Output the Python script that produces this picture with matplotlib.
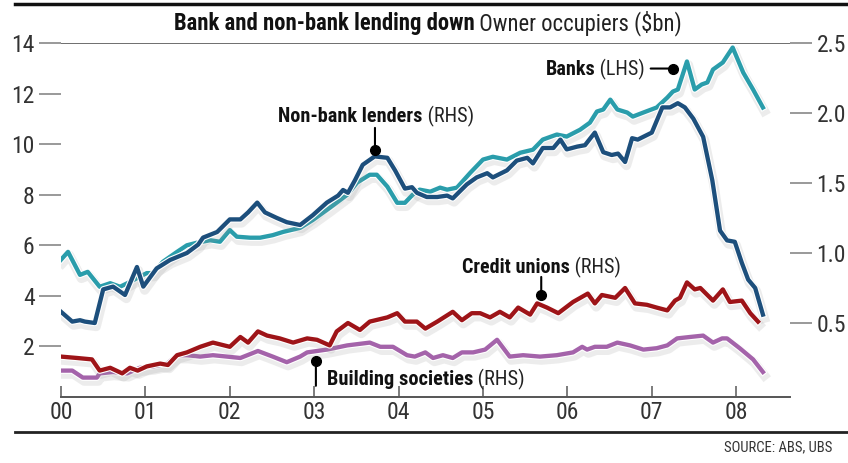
import matplotlib
matplotlib.use("Agg")
import matplotlib.pyplot as plt
import matplotlib.patheffects as pe
import numpy as np

plt.rcParams['font.family'] = ['Roboto Condensed', 'DejaVu Sans']
plt.rcParams['font.stretch'] = 'condensed'

# ---------------- data (months since Jan 2000, values in $bn) ----------------
banks_m = [0, 1, 2.7, 3.8, 5.5, 7, 8.4, 9.8, 10.8, 12.2, 13.1, 14.5, 16.5, 17.9, 19.3, 21.2, 22.6, 24, 25,
           26.9, 28.3, 30.1, 31.6, 34, 35.8, 38.2, 40.7, 42.1, 43.9, 44.9, 46.4, 47.8, 48.9, 50, 51, 52.5,
           53.9, 54.9, 56.3, 58.2, 60, 61.4, 63.4, 65.3, 67.1, 68.5, 70.5, 71.9, 73.8, 75.2, 76.2, 77.1,
           78.1, 79.1, 80.5, 81.3, 82.8, 84.7, 86.2, 87, 87.7, 89, 90.1, 91.1, 91.9, 92.7, 94.1, 95.5, 97,
           98.4, 99.8]
banks_v = [5.43, 5.74, 4.83, 4.95, 4.36, 4.5, 4.36, 4.55, 4.7, 4.9, 4.9, 5.35, 5.74, 6.0, 6.1, 6.2, 6.14, 6.6,
           6.34, 6.3, 6.3, 6.4, 6.53, 6.69, 7.0, 7.48, 8.0, 8.48, 8.79, 8.79, 8.32, 7.68, 7.68, 8.0, 8.2, 8.12,
           8.28, 8.2, 8.28, 8.87, 9.39, 9.5, 9.39, 9.66, 9.78, 10.18, 10.38, 10.3, 10.57, 10.85, 11.29, 11.37,
           11.76, 11.37, 11.25, 11.09, 11.25, 11.45, 11.84, 12.08, 12.16, 13.27, 12.16, 12.36, 12.44, 12.95,
           13.23, 13.82, 12.83, 12.16, 11.45]

nonbank_m = [0, 1.6, 2.7, 3.4, 4.8, 6, 7.4, 9.1, 10.8, 11.7, 13.6, 15.5, 17.9, 19.5, 20.2, 22.2, 24, 25.5,
             26.6, 27.9, 29, 30.7, 32.1, 34, 35.8, 37.8, 39.4, 40.1, 40.8, 41.8, 42.9, 44.6, 46.4, 47.5,
             48.9, 49.9, 50.6, 52, 53.5, 54.9, 55.7, 57.7, 59.1, 60.6, 61.4, 63.4, 64.8, 66.3, 67.1, 68.5,
             70, 71, 71.9, 73.4, 74.5, 75.9, 77.1, 78.3, 79.2, 80.2, 81.2, 82, 84, 85.5, 86.6, 87.7, 88.7,
             89.9, 91.3, 92.6, 93.7, 94.7, 95.8, 96.8, 97.7, 98.7, 99.8]
nonbank_v = [0.58, 0.51, 0.52, 0.51, 0.50, 0.74, 0.76, 0.70, 0.90, 0.76, 0.89, 0.95, 1.0, 1.06, 1.11, 1.15,
             1.24, 1.24, 1.29, 1.36, 1.29, 1.25, 1.22, 1.2, 1.27, 1.36, 1.41, 1.45, 1.43, 1.52, 1.63, 1.69,
             1.68, 1.59, 1.46, 1.47, 1.43, 1.40, 1.40, 1.41, 1.39, 1.49, 1.54, 1.57, 1.54, 1.59, 1.66, 1.68,
             1.64, 1.75, 1.75, 1.81, 1.74, 1.76, 1.77, 1.86, 1.72, 1.70, 1.71, 1.65, 1.82, 1.81, 1.86, 2.04,
             2.04, 2.07, 2.04, 1.96, 1.83, 1.52, 1.16, 1.09, 1.08, 0.93, 0.81, 0.75, 0.56]

credit_m = [0, 2.3, 4.4, 5.5, 7, 8.7, 9.8, 10.9, 12.2, 14.1, 15.2, 16.5, 17.9, 19.8, 21.6, 24, 25.5, 26.6,
            28, 29.3, 31.1, 33, 35, 36.4, 38.2, 39.2, 40.8, 42.5, 43.9, 46.4, 47.8, 48.9, 50.6, 51.8, 53.5,
            55.7, 57, 58.4, 59.6, 61, 62.4, 63.8, 65, 66.7, 67.7, 69.1, 70.7, 72.8, 74.9, 75.9, 76.9, 78.8,
            80.2, 81.6, 83.3, 84.7, 86.2, 87.3, 88, 89, 90.1, 90.9, 92.7, 94.1, 95.1, 96.8, 98, 99.1]
credit_v = [0.26, 0.25, 0.24, 0.16, 0.18, 0.14, 0.18, 0.16, 0.19, 0.21, 0.20, 0.27, 0.29, 0.33, 0.36, 0.33,
            0.40, 0.36, 0.44, 0.41, 0.39, 0.36, 0.39, 0.38, 0.34, 0.44, 0.50, 0.45, 0.51, 0.54, 0.57, 0.51,
            0.51, 0.46, 0.51, 0.58, 0.52, 0.57, 0.57, 0.54, 0.58, 0.54, 0.61, 0.56, 0.64, 0.61, 0.57, 0.65,
            0.71, 0.64, 0.70, 0.68, 0.75, 0.64, 0.63, 0.61, 0.59, 0.66, 0.68, 0.79, 0.74, 0.75, 0.66, 0.74,
            0.65, 0.66, 0.57, 0.51]

building_m = [0, 1.6, 3.1, 5.1, 5.5, 7.4, 9.4, 11.2, 13.1, 15.1, 16.5, 17.9, 19.8, 21.6, 23.6, 25.5, 28,
              30.1, 32.1, 34, 35, 37.8, 40.7, 43.9, 45.4, 47.2, 49.2, 50.3, 51.8, 52.9, 54.3, 55.7, 57,
              58.6, 60.3, 62, 63.8, 65.7, 68.1, 70.5, 72.8, 74.1, 74.8, 75.9, 77.6, 79.1, 80.9, 82.8, 84.7,
              86.2, 87.6, 89.4, 91.3, 92.7, 94, 94.7, 96.5, 98.4, 99.8]
building_v = [0.16, 0.16, 0.11, 0.11, 0.14, 0.15, 0.14, 0.18, 0.19, 0.21, 0.27, 0.27, 0.26, 0.27, 0.26,
              0.25, 0.30, 0.26, 0.22, 0.26, 0.29, 0.31, 0.34, 0.36, 0.33, 0.33, 0.27, 0.26, 0.29, 0.25,
              0.27, 0.25, 0.29, 0.29, 0.31, 0.38, 0.26, 0.27, 0.26, 0.27, 0.29, 0.33, 0.31, 0.33, 0.33,
              0.36, 0.34, 0.31, 0.32, 0.34, 0.39, 0.40, 0.41, 0.36, 0.39, 0.39, 0.32, 0.24, 0.15]

year_ticks = [2000, 2001, 2002, 2003, 2004, 2005, 2006, 2007, 2008]
year_labels = ['00', '01', '02', '03', '04', '05', '06', '07', '08']
left_ticks = [2, 4, 6, 8, 10, 12, 14]
right_ticks = [0.5, 1.0, 1.5, 2.0, 2.5]

C_BANK = '#2a9dab'
C_NONBANK = '#1d4f7c'
C_CREDIT = '#9e1418'
C_BUILD = '#a463aa'

W, H = 848, 463
fig = plt.figure(figsize=(W / 100, H / 100), dpi=100)
fig.patch.set_facecolor('white')


def fx(px):
    return px / W


def fy(py):
    return 1 - py / H


ax = fig.add_axes([fx(61), fy(397), fx(790) - fx(61), fy(43) - fy(397)])
ax2 = ax.twinx()
ax.set_facecolor('none')


def yr(m):
    return 2000 + np.asarray(m) / 12.0


def effects(lw):
    return [pe.SimpleLineShadow(offset=(1.0, -2.5), shadow_color='#999999', alpha=0.18, linewidth=lw * 2.2),
            pe.Stroke(linewidth=lw + 1.6, foreground='white'), pe.Normal()]


LW = 3.1
ax.plot(yr(banks_m), banks_v, color=C_BANK, lw=LW, path_effects=effects(LW), zorder=3)
ax2.plot(yr(building_m), building_v, color=C_BUILD, lw=LW, path_effects=effects(LW), zorder=3)
ax2.plot(yr(credit_m), credit_v, color=C_CREDIT, lw=LW, path_effects=effects(LW), zorder=4)
ax2.plot(yr(nonbank_m), nonbank_v, color=C_NONBANK, lw=LW, path_effects=effects(LW), zorder=5)

ax.set_xlim(2000, 2000 + (790 - 61) / 84.4)
ax.set_ylim(0, 14)
ax2.set_ylim(-0.0286, 2.5)

for a in (ax, ax2):
    for s in a.spines.values():
        s.set_visible(False)
ax.spines['bottom'].set_visible(True)
ax.spines['bottom'].set_color('#555555')
ax.spines['bottom'].set_linewidth(1.4)

ax.set_xticks(year_ticks)
ax.set_xticklabels(year_labels)
ax.tick_params(axis='x', direction='in', length=8, width=1.2, color='#666666', pad=3,
               labelsize=17, labelcolor='#333333')

ax.set_yticks(left_ticks)
ax.set_yticklabels([str(v) for v in left_ticks])
ax.tick_params(axis='y', direction='out', length=16, width=1.2, color='#888888', pad=3,
               labelsize=17, labelcolor='#333333')
ax2.set_yticks(right_ticks)
ax2.set_yticklabels(['%.1f' % v for v in right_ticks])
ax2.tick_params(axis='y', direction='out', length=16, width=1.2, color='#888888', pad=3,
                labelsize=17, labelcolor='#333333')

ax.axhline(14, color='#555555', lw=1.2, zorder=1)

# frame lines
fig.add_artist(plt.Line2D([fx(15), 1], [fy(4), fy(4)], color='#111111', lw=2.5))
fig.add_artist(plt.Line2D([fx(15), 1], [fy(432), fy(432)], color='#222222', lw=2.0))

fig.text(fx(832), fy(447), 'SOURCE: ABS, UBS', ha='right', va='center', fontsize=10.5, color='#333333')

renderer = fig.canvas.get_renderer()


def rich(x_px, y_px, bold, light, ha='center', size=14):
    t1 = fig.text(0, 0, bold, fontsize=size, fontweight='bold', color='#111111', va='baseline')
    t2 = fig.text(0, 0, ' ' + light, fontsize=size, color='#222222', va='baseline')
    w1 = t1.get_window_extent(renderer).width
    w2 = t2.get_window_extent(renderer).width
    tot = w1 + w2
    if ha == 'center':
        x0 = x_px - tot / 2
    elif ha == 'right':
        x0 = x_px - tot
    else:
        x0 = x_px
    t1.set_position((fx(x0), fy(y_px)))
    t2.set_position((fx(x0 + w1), fy(y_px)))


rich(428, 30, 'Bank and non-bank lending down', 'Owner occupiers ($bn)', 'center', 16.3)
rich(376, 122, 'Non-bank lenders', '(RHS)', 'center', 14.6)
rich(645, 75, 'Banks', '(LHS)', 'right', 14.5)
rich(541, 273, 'Credit unions', '(RHS)', 'center', 14.5)
rich(327, 385, 'Building societies', '(RHS)', 'left', 14.7)


def marker(a, x, y, dx, dy):
    a.annotate('', xy=(x, y), xytext=(dx, dy), textcoords='offset points',
               arrowprops=dict(arrowstyle='-', lw=1.5, color='black', shrinkA=0, shrinkB=0),
               annotation_clip=False)
    a.plot([x], [y], 'o', ms=7, color='black', zorder=20, clip_on=False)


marker(ax2, 2003.72, 1.735, 0, 16)
marker(ax, 2007.25, 12.99, -16, 0)
marker(ax2, 2005.69, 0.70, 0, 13)
marker(ax2, 2003.02, 0.23, 0, -18)

fig.savefig('out.png', dpi=100)
